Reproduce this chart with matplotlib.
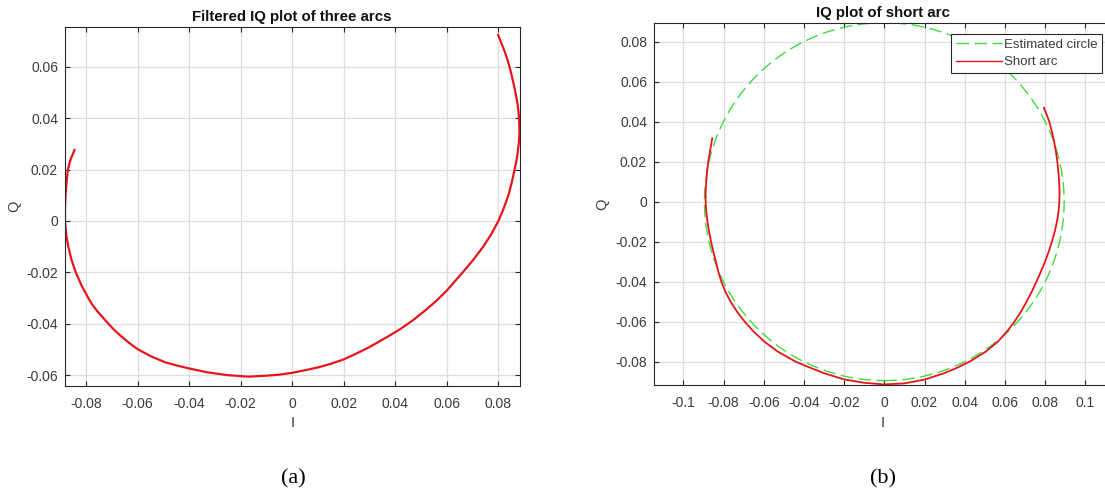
import matplotlib
matplotlib.use("Agg")
import matplotlib.pyplot as plt
from matplotlib.patches import Circle
from matplotlib.lines import Line2D

plt.rcParams['font.family'] = ['Liberation Sans', 'DejaVu Sans']

# (a) filtered IQ trace of three arcs, from the upper-right end round to the left end
arcs_i = [0.0800, 0.0813, 0.0825, 0.0835, 0.0844, 0.0854, 0.0863, 0.0870, 0.0876,
          0.0880, 0.0882, 0.0883, 0.0880, 0.0874, 0.0864, 0.0853, 0.0840, 0.0822,
          0.0801, 0.0774, 0.0742, 0.0704, 0.0662, 0.0600, 0.0560, 0.0520, 0.0470,
          0.0420, 0.0370, 0.0300, 0.0250, 0.0200, 0.0150, 0.0100, 0.0050, 0.0000,
          -0.0050, -0.0100, -0.0170, -0.0250, -0.0330, -0.0400, -0.0450, -0.0493,
          -0.0550, -0.0600, -0.0635, -0.0665, -0.0690, -0.0713, -0.0735, -0.0757,
          -0.0776, -0.0791, -0.0818, -0.0840, -0.0857, -0.0869, -0.0878, -0.0882,
          -0.0882, -0.0880, -0.0876, -0.0871, -0.0860, -0.0845]
arcs_q = [0.0723, 0.0690, 0.0660, 0.0630, 0.0600, 0.0560, 0.0520, 0.0485, 0.0450,
          0.0415, 0.0380, 0.0340, 0.0300, 0.0250, 0.0200, 0.0150, 0.0100, 0.0050,
          0.0000, -0.0050, -0.0100, -0.0150, -0.0200, -0.0271, -0.0310, -0.0345, -0.0385,
          -0.0420, -0.0450, -0.0490, -0.0515, -0.0538, -0.0555, -0.0569, -0.0580, -0.0590,
          -0.0597, -0.0601, -0.0605, -0.0599, -0.0588, -0.0573, -0.0561, -0.0549,
          -0.0525, -0.0498, -0.0472, -0.0447, -0.0424, -0.0400, -0.0375, -0.0350,
          -0.0325, -0.0300, -0.0250, -0.0200, -0.0150, -0.0100, -0.0050, 0.0000,
          0.0050, 0.0100, 0.0150, 0.0200, 0.0240, 0.0276]

# (b) short arc, from the upper-left end round to the upper-right end
short_i = [-0.0856, -0.0866, -0.0876, -0.0882, -0.0886, -0.0889, -0.0889, -0.0886,
           -0.0880, -0.0872, -0.0862, -0.0851, -0.0838, -0.0826, -0.0811, -0.0791,
           -0.0765, -0.0733, -0.0695, -0.0650, -0.0597, -0.0530, -0.0442, -0.0370,
           -0.0300, -0.0200, -0.0100, 0.0000, 0.0100, 0.0200, 0.0300, 0.0360, 0.0425,
           0.0505, 0.0565, 0.0610, 0.0648, 0.0680, 0.0708, 0.0734, 0.0757, 0.0779,
           0.0800, 0.0818, 0.0834, 0.0848, 0.0859, 0.0867, 0.0871, 0.0872, 0.0870,
           0.0866, 0.0861, 0.0854, 0.0845, 0.0834, 0.0821, 0.0808, 0.0794]
short_q = [0.0317, 0.0260, 0.0200, 0.0150, 0.0100, 0.0050, 0.0000, -0.0050,
           -0.0100, -0.0150, -0.0200, -0.0250, -0.0300, -0.0350, -0.0400, -0.0450,
           -0.0500, -0.0550, -0.0600, -0.0650, -0.0700, -0.0750, -0.0800, -0.0830,
           -0.0858, -0.0889, -0.0906, -0.0914, -0.0909, -0.0890, -0.0857, -0.0832, -0.0800,
           -0.0750, -0.0700, -0.0650, -0.0600, -0.0550, -0.0500, -0.0450, -0.0400, -0.0350,
           -0.0300, -0.0250, -0.0200, -0.0150, -0.0100, -0.0050, 0.0000, 0.0050, 0.0100,
           0.0150, 0.0200, 0.0250, 0.0300, 0.0350, 0.0400, 0.0435, 0.0470]

# fitted circle
circle_center = (0.0, 0.0)
circle_radius = 0.0895

ticks_a_x = [-0.08, -0.06, -0.04, -0.02, 0, 0.02, 0.04, 0.06, 0.08]
ticks_a_y = [-0.06, -0.04, -0.02, 0, 0.02, 0.04, 0.06]
ticks_b_x = [-0.1, -0.08, -0.06, -0.04, -0.02, 0, 0.02, 0.04, 0.06, 0.08, 0.1]
ticks_b_y = [-0.08, -0.06, -0.04, -0.02, 0, 0.02, 0.04, 0.06, 0.08]

def fmt(v):
    if v == 0:
        return '0'
    return f'{v:.2f}'.rstrip('0')

AX_COLOR = '#262626'
TXT_COLOR = '#3a3a3a'
GRID_COLOR = '#dedede'
RED = '#e8141c'
GREEN = '#3fdc3f'

fig = plt.figure(figsize=(11.05, 5.04), dpi=100)

def style(ax, xt, yt):
    ax.set_xticks(xt)
    ax.set_yticks(yt)
    ax.set_xticklabels([fmt(v) for v in xt])
    ax.set_yticklabels([fmt(v) for v in yt])
    ax.tick_params(direction='in', top=True, right=True, length=3.5, width=0.8,
                   color=AX_COLOR, labelcolor=TXT_COLOR, labelsize=10, pad=5)
    ax.tick_params(axis='x', pad=8)
    ax.grid(True, color=GRID_COLOR, linewidth=0.9)
    ax.set_axisbelow(True)
    for sp in ax.spines.values():
        sp.set_color(AX_COLOR)
        sp.set_linewidth(0.8)
    ax.set_xlabel('I', fontsize=10.5, color=TXT_COLOR, labelpad=4)
    ax.set_ylabel('Q', fontsize=10.5, color=TXT_COLOR, labelpad=4)

# panel (a)
ax1 = fig.add_axes([65 / 1105, 1 - 385.7 / 504, 454.5 / 1105, 359 / 504])
ax1.plot(arcs_i, arcs_q, color=RED, linewidth=1.6, solid_joinstyle='round')
ax1.set_xlim(-0.0882, 0.0883)
ax1.set_ylim(-0.0640, 0.0755)
style(ax1, ticks_a_x, ticks_a_y)
ax1.set_title('Filtered IQ plot of three arcs', fontsize=10.8, fontweight='bold',
              color='#111111', pad=4)

# panel (b)
ax2 = fig.add_axes([654 / 1105, 1 - 385 / 504, 457.4 / 1105, 362.3 / 504])
ax2.add_patch(Circle(circle_center, circle_radius, fill=False, edgecolor=GREEN,
                     linewidth=1.0, linestyle=(0, (9, 4))))
ax2.plot(short_i, short_q, color=RED, linewidth=1.3, solid_joinstyle='round')
ax2.set_xlim(-0.1146, 0.1130)
ax2.set_ylim(-0.0917, 0.0895)
style(ax2, ticks_b_x, ticks_b_y)
ax2.set_title('IQ plot of short arc', fontsize=10.8, fontweight='bold',
              color='#111111', pad=4)

handles = [Line2D([], [], color=GREEN, linewidth=1.0, linestyle=(0, (9, 4))),
           Line2D([], [], color=RED, linewidth=1.0)]
leg = ax2.legend(handles, ['Estimated circle', 'Short arc'], loc='upper right',
                 bbox_to_anchor=(0.980, 0.969), borderaxespad=0, fontsize=9.5,
                 handlelength=3.5, handletextpad=0.15, borderpad=0.35,
                 labelspacing=0.4, fancybox=False, framealpha=1,
                 edgecolor=AX_COLOR)
leg.get_frame().set_linewidth(0.8)
for t in leg.get_texts():
    t.set_color(TXT_COLOR)

fig.text(293 / 1105, 1 - 479 / 504, '(a)', ha='center', va='center',
         fontsize=16, family='Liberation Serif', color='black')
fig.text(883 / 1105, 1 - 479 / 504, '(b)', ha='center', va='center',
         fontsize=16, family='Liberation Serif', color='black')

fig.savefig('out.png', dpi=100)
